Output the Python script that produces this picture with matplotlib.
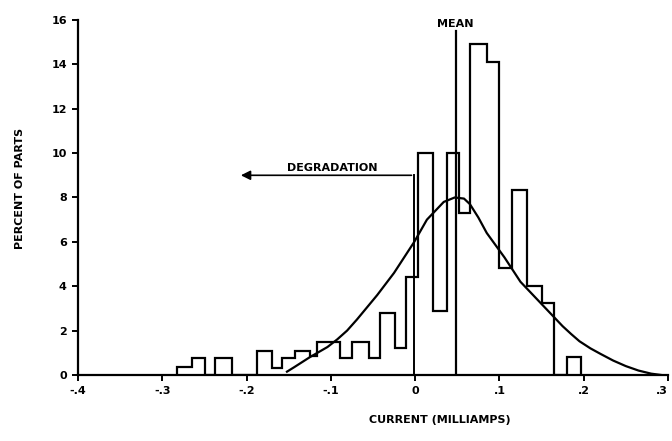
import numpy as np
import matplotlib.pyplot as plt

plt.rcParams['font.family'] = ['Liberation Sans Narrow', 'DejaVu Sans']
plt.rcParams['font.weight'] = 'bold'

# histogram: bin edges (milliamps) and percent of parts
edges = [-0.282, -0.265, -0.249, -0.237, -0.217, -0.187, -0.170, -0.158,
         -0.142, -0.125, -0.116, -0.089, -0.075, -0.055, -0.042, -0.024,
         -0.011, 0.004, 0.021, 0.038, 0.052, 0.065, 0.085, 0.100, 0.115,
         0.133, 0.151, 0.165, 0.180, 0.197]
pct = [0.35, 0.75, 0.0, 0.75, 0.0, 1.1, 0.3, 0.75, 1.1, 0.85, 1.5, 0.75,
       1.5, 0.75, 2.8, 1.2, 4.4, 10.0, 2.9, 10.0, 7.3, 14.9, 14.1, 4.8,
       8.35, 4.0, 3.25, 0.0, 0.8]

# fitted curve
curve_x = [-0.152, -0.1435, -0.125, -0.104, -0.0925, -0.0807, -0.069, -0.057,
           -0.045, -0.037, -0.025, -0.013, -0.001, 0.014, 0.034, 0.047, 0.058,
           0.065, 0.075, 0.085, 0.106, 0.125, 0.145, 0.165, 0.175, 0.185,
           0.195, 0.208, 0.22, 0.235, 0.25, 0.265, 0.28, 0.292]
curve_y = [0.15, 0.35, 0.8, 1.26, 1.6, 2.0, 2.5, 3.05, 3.6, 4.0, 4.6, 5.3,
           6.0, 7.0, 7.8, 8.0, 7.95, 7.7, 7.1, 6.4, 5.3, 4.2, 3.4, 2.6, 2.2,
           1.85, 1.52, 1.2, 0.95, 0.65, 0.4, 0.2, 0.06, 0.0]

mean = 0.048
degr_h = 9.0

xticks = [-0.4, -0.3, -0.2, -0.1, 0.0, 0.1, 0.2, 0.3]
xlabels = ["-.4", "-.3", "-.2", "-.1", "0", ".1", ".2", ".3"]
yticks = [0, 2, 4, 6, 8, 10, 12, 14, 16]

fig = plt.figure(figsize=(6.72, 4.41), dpi=100)
ax = fig.add_axes([0.116, 0.1497, 0.878, 0.805])

ax.stairs(pct, edges, baseline=0, color="black", linewidth=1.6)
ax.plot(curve_x, curve_y, color="black", linewidth=1.6)

# mean line and degradation arrow
ax.plot([mean, mean], [0, 15.5], color="black", linewidth=1.6)
ax.text(mean, 15.6, "MEAN", ha="center", va="bottom", fontsize=8, fontweight="bold")
ax.plot([-0.001, -0.001], [0, degr_h], color="black", linewidth=1.4)
ax.annotate("", xy=(-0.21, degr_h), xytext=(-0.001, degr_h),
            arrowprops=dict(arrowstyle="-|>", color="black", lw=1.2,
                            mutation_scale=14))
ax.text(-0.098, degr_h + 0.1, "DEGRADATION", ha="center", va="bottom",
        fontsize=8, fontweight="bold")

ax.set_xlim(-0.4, 0.3)
ax.set_ylim(0, 16)
ax.set_xticks(xticks)
ax.set_xticklabels(xlabels)
ax.get_xticklabels()[-1].set_ha("right")
ax.set_yticks(yticks)
ax.tick_params(axis="both", direction="out", length=4, width=1.4,
               labelsize=8, pad=4)
for s in ["top", "right"]:
    ax.spines[s].set_visible(False)
for s in ["left", "bottom"]:
    ax.spines[s].set_linewidth(1.6)

fig.text(440 / 672, 1 - 420 / 441, "CURRENT (MILLIAMPS)", ha="center",
         va="center", fontsize=8, fontweight="bold")
fig.text(20 / 672, 1 - 188 / 441, "PERCENT OF PARTS", ha="center",
         va="center", rotation=90, fontsize=8, fontweight="bold")

fig.savefig("out.png", dpi=100)
